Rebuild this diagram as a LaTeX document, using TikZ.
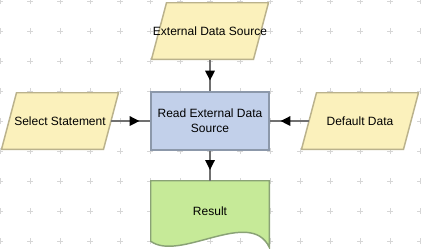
\documentclass[tikz,border=0pt]{standalone}
\usepackage{fontspec}
\setmainfont{Liberation Sans}
\usepackage{tikz}
\usetikzlibrary{positioning,arrows.meta,calc,decorations.markings}
\definecolor{datafill}{RGB}{251,241,188}
\definecolor{dataline}{RGB}{186,178,140}
\definecolor{procfill}{RGB}{194,208,234}
\definecolor{procline}{RGB}{140,152,170}
\definecolor{docfill}{RGB}{198,234,152}
\definecolor{docline}{RGB}{138,162,118}
\definecolor{flowgray}{RGB}{112,112,112}
\definecolor{gridgray}{RGB}{214,214,214}
\pgfdeclarelayer{background}
\pgfsetlayers{background,main}
\tikzset{
    data/.style={
        rectangle,
        minimum width=88.5pt,
        minimum height=43.5pt,
        inner sep=1pt,
        font=\fontsize{9}{11}\selectfont,
        path picture={
            \draw[dataline,fill=datafill,line width=1.1pt]
                ($(path picture bounding box.south west)+(0.5,-0.7)$)
                -- ($(path picture bounding box.north west)+(15.5,0.7)$)
                -- ($(path picture bounding box.north east)+(-0.5,0.7)$)
                -- ($(path picture bounding box.south east)+(-15.5,-0.7)$)
                -- cycle;
        }
    },
    proc/.style={
        rectangle,
        draw=procline,
        fill=procfill,
        line width=1.1pt,
        minimum width=88.5pt,
        minimum height=43.5pt,
        align=center,
        inner sep=1pt,
        font=\fontsize{9}{11}\selectfont
    },
    doc/.style={
        rectangle,
        minimum width=88.5pt,
        minimum height=45pt,
        inner sep=1pt,
        font=\fontsize{9}{11}\selectfont
    },
    docbox/.style={draw=docline,fill=docfill,line width=1.1pt},
    gridmark/.style={draw=gridgray,line width=0.75pt},
    flow/.style={
        draw=flowgray,
        line width=1.5pt,
        postaction={decorate},
        decoration={markings,
            mark=at position -8pt with {\arrow[black]{Triangle[length=7.5pt,width=7pt]}}}
    },
    fromdata/.style={shorten <=-6pt}
}

\begin{document}
\begin{tikzpicture}[x=0.75pt,y=-0.75pt]

\useasboundingbox (0,0) rectangle (421,248);

% grid marks
\begin{pgfonlayer}{background}
\fill[white] (0,0) rectangle (421,248);
\foreach \gx in {0,30,...,420}
  \foreach \gy in {1,31,...,241}
    \draw[gridmark] (\gx-3,\gy) -- (\gx+3,\gy) (\gx,\gy-3) -- (\gx,\gy+3);
\end{pgfonlayer}

% inputs
\node[data] (src) at (210,31) {External Data Source};
\node[data] (sel) at (60,121) {Select Statement};
\node[data] (dflt) at (360,121) {Default Data};

% process and output
\node[proc] (read) at (210,121) {Read External Data\\Source};
\node[doc]  (res) at (210,211) {Result};

\begin{pgfonlayer}{background}
\draw[docbox] (res.north west) -- (res.north east)
    -- ($(res.south east)+(0,6)$)
    .. controls ($(res.south east)+(-19,-34)$) and ($(res.south west)+(29,21)$) .. (res.south west)
    -- cycle;
\end{pgfonlayer}

\draw[flow] (src) -- (read);
\draw[flow,fromdata] (sel) -- (read);
\draw[flow,fromdata] (dflt) -- (read);
\draw[flow] (read) -- (res.north);

\end{tikzpicture}
\end{document}
